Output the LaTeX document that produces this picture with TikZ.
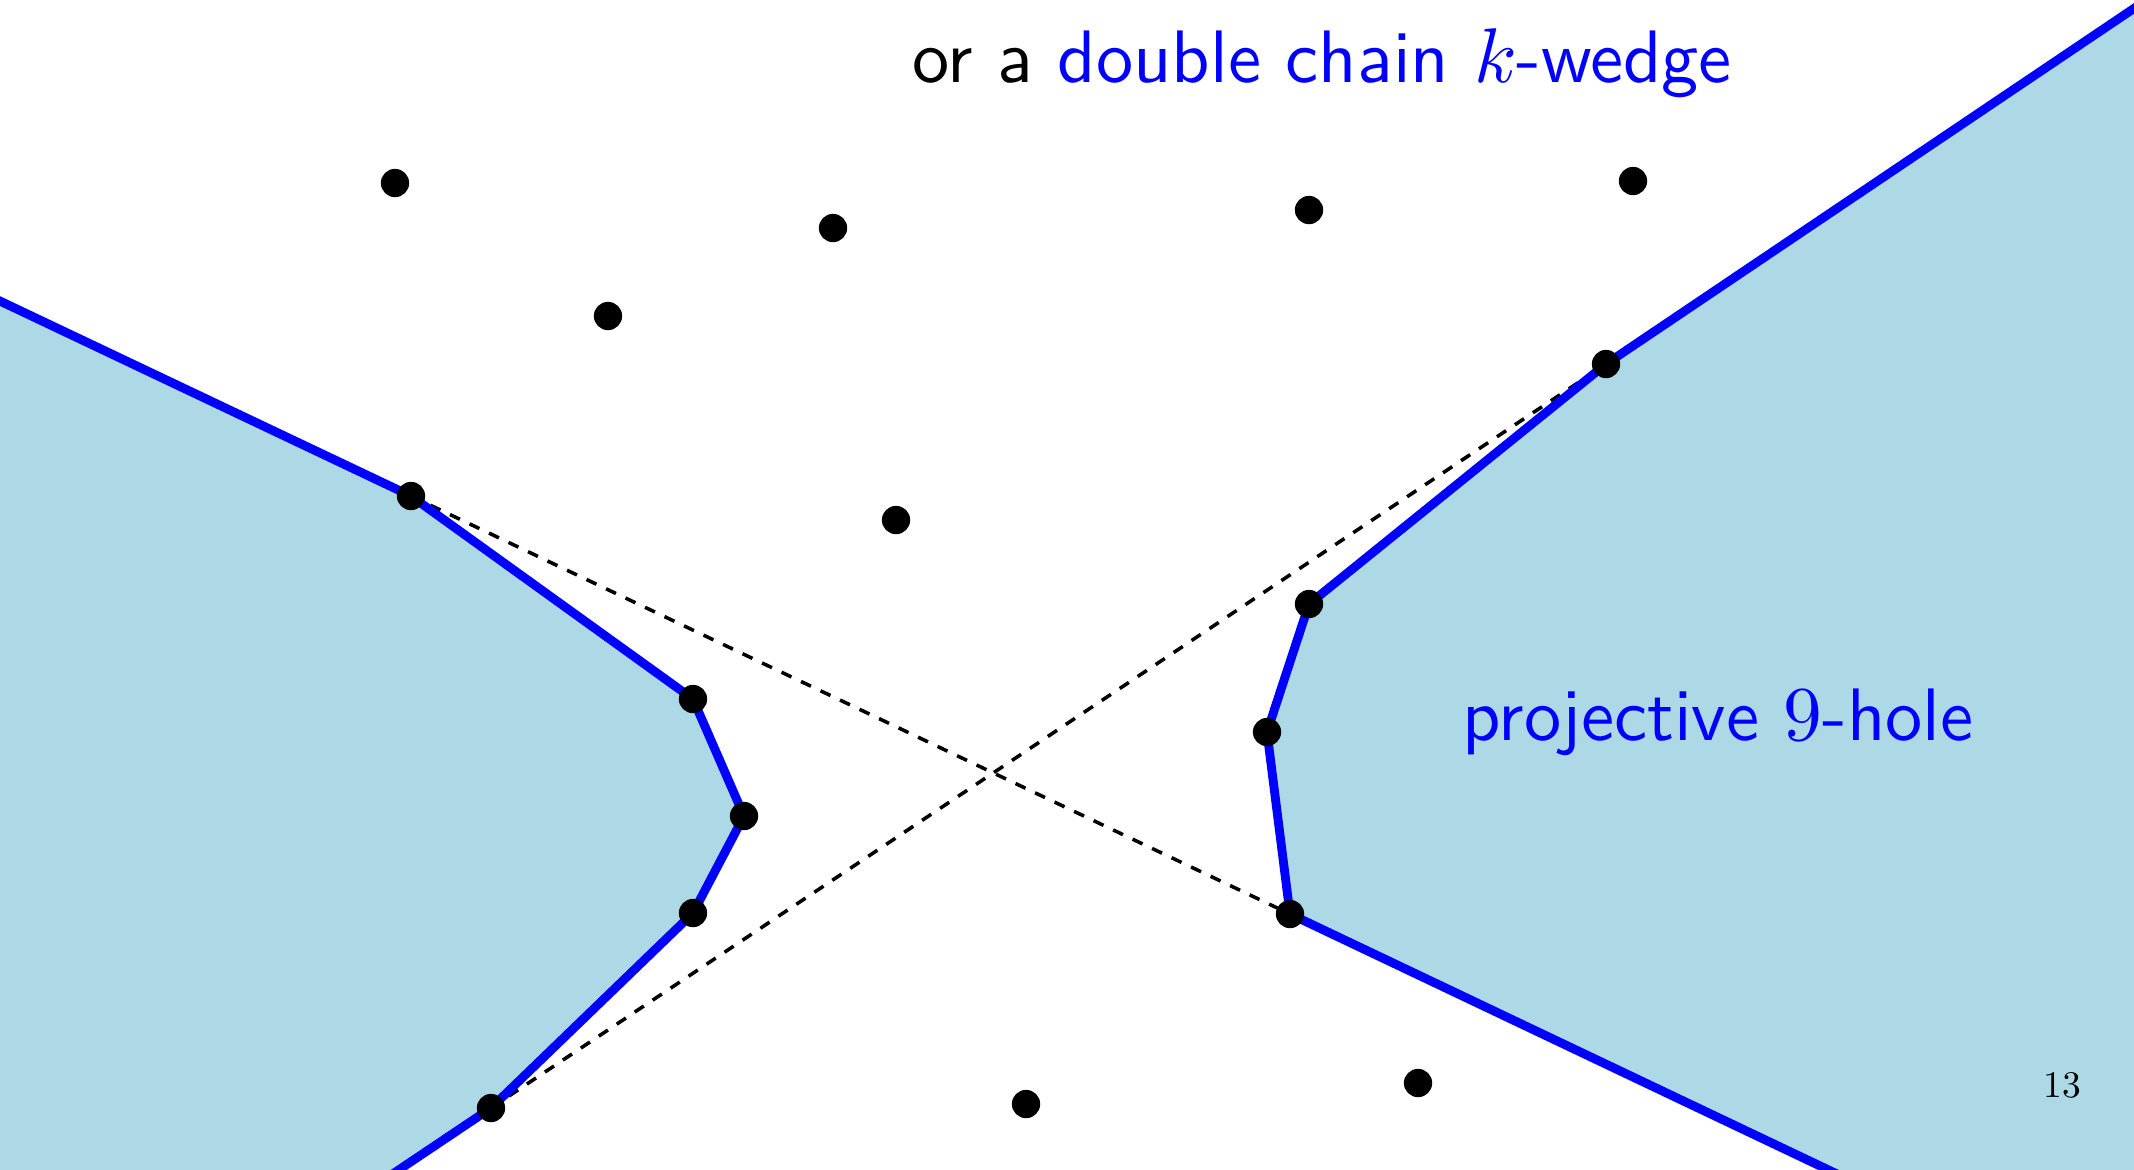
\documentclass[tikz,border=0pt]{standalone}
\usepackage{xcolor}
\usepackage{graphicx}
\definecolor{hullfill}{RGB}{173,216,230}
\tikzset{
  dot/.style={circle, fill=black, inner sep=0pt, minimum size=4pt},
  hullline/.style={blue, line width=1.25pt, line join=miter},
  chord/.style={black, line width=0.5pt, dash pattern=on 1.55pt off 1.5pt},
  bigtext/.style={inner sep=0pt, anchor=base, font=\fontsize{10.5}{12}\selectfont\sffamily}
}
\begin{document}
\begin{tikzpicture}[x=0.14124pt, y=-0.14124pt]
\useasboundingbox (0,0) rectangle (2134,1169);
\clip (0,0) rectangle (2134,1169);
% hull vertices
\coordinate (l0) at (-100,253.6);
\coordinate (l1c) at (411,496);
\coordinate (l2c) at (693,699);
\coordinate (l3c) at (744,816);
\coordinate (l4c) at (693,913);
\coordinate (l5c) at (491,1108);
\coordinate (l6) at (251,1269);
\coordinate (r0) at (2234,-59);
\coordinate (r1c) at (1606,364);
\coordinate (r2c) at (1309,604);
\coordinate (r3c) at (1267,732);
\coordinate (r4c) at (1290,914);
\coordinate (r5) at (2037,1269);
% fills
\fill[hullfill] (l0) -- (l1c) -- (l2c) -- (l3c) -- (l4c) -- (l5c) -- (l6) -- (-100,1269) -- cycle;
\fill[hullfill] (r0) -- (r1c) -- (r2c) -- (r3c) -- (r4c) -- (r5) -- (2234,1269) -- cycle;
% dashed chords
\draw[chord] (l1c) -- (r4c);
\draw[chord] (l5c) -- (r1c);
% hull boundaries
\draw[hullline] (l0) -- (l1c) -- (l2c) -- (l3c) -- (l4c) -- (l5c) -- (l6);
\draw[hullline] (r0) -- (r1c) -- (r2c) -- (r3c) -- (r4c) -- (r5);
% points
\node[dot] (l1) at (l1c) {};
\node[dot] (l2) at (l2c) {};
\node[dot] (l3) at (l3c) {};
\node[dot] (l4) at (l4c) {};
\node[dot] (l5) at (l5c) {};
\node[dot] (r1) at (r1c) {};
\node[dot] (r2) at (r2c) {};
\node[dot] (r3) at (r3c) {};
\node[dot] (r4) at (r4c) {};
\node[dot] (p1) at (395,183) {};
\node[dot] (p2) at (833,228) {};
\node[dot] (p3) at (608,316) {};
\node[dot] (p4) at (1309,210) {};
\node[dot] (p5) at (1633,181) {};
\node[dot] (p6) at (896,520) {};
\node[dot] (p7) at (1026,1104) {};
\node[dot] (p8) at (1418,1083) {};
% texts
\node[bigtext] (title) at (1322,82) {or a \textcolor{blue}{double chain $k$-wedge}};
\node[bigtext, text=blue] (hole) at (1718,740) {projective $9$-hole};
\node[inner sep=0pt, anchor=base] (pagenum) at (2062,1097) {\scalebox{0.53}{\fontsize{10}{12}\selectfont 13}};
\end{tikzpicture}
\end{document}
